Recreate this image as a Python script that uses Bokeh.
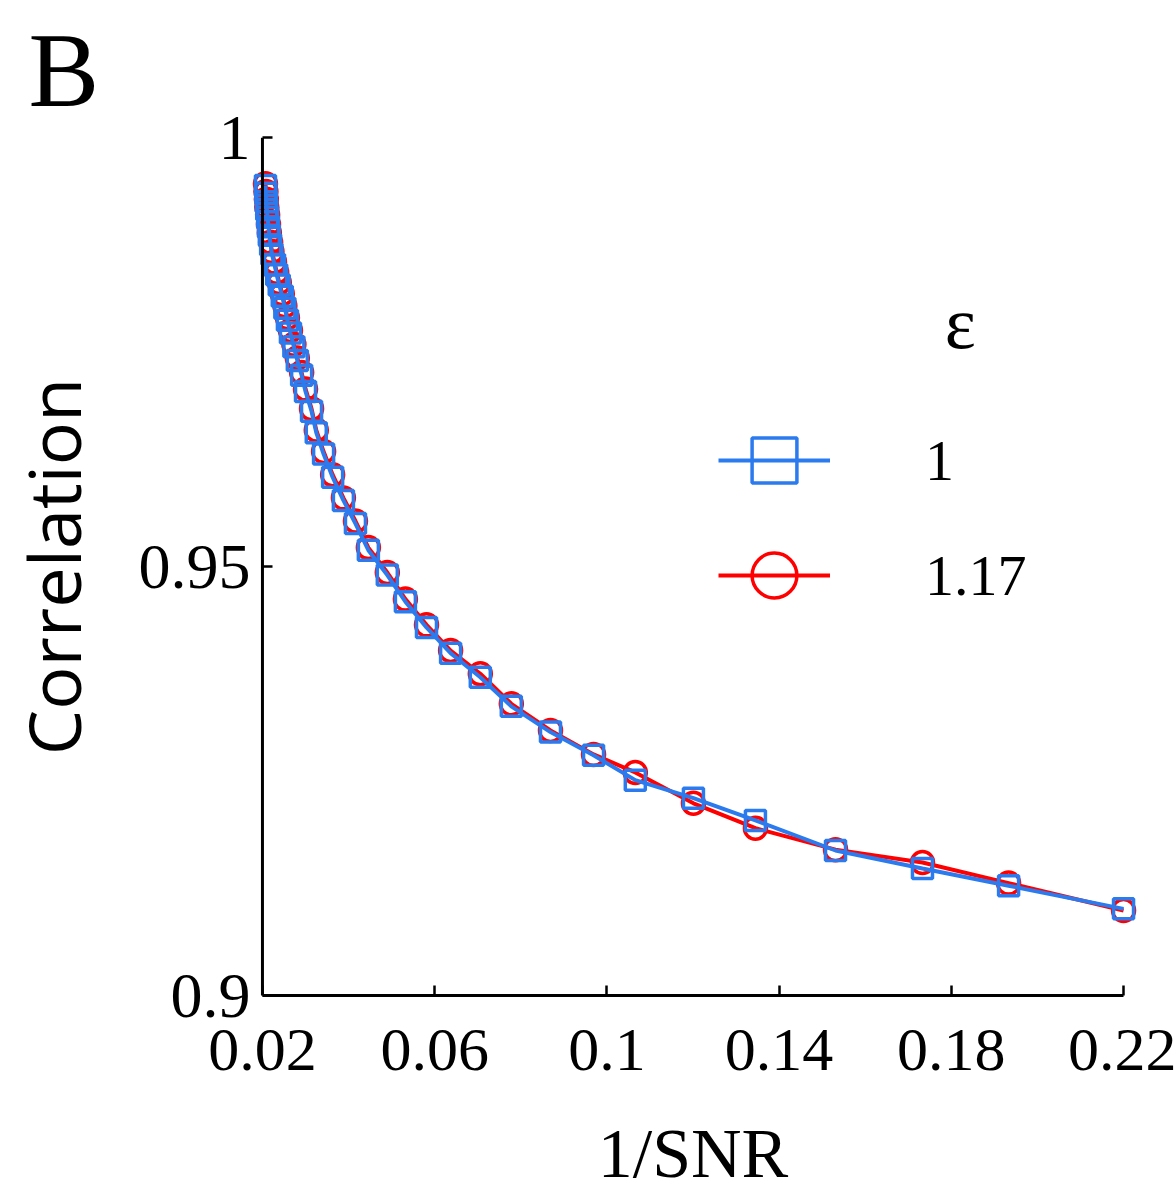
from bokeh.plotting import figure
from bokeh.models import Range1d, Legend, LegendItem, Label, FixedTicker, NumeralTickFormatter, Span
from bokeh.embed import file_html
from bokeh.resources import INLINE

# ---- data ----
inv_snr = [0.0207, 0.0208, 0.0209, 0.0210, 0.0212, 0.0214, 0.0216, 0.0219, 0.0222, 0.0228,
           0.0233, 0.0239, 0.0246, 0.0252, 0.0258, 0.0265, 0.0273, 0.0281, 0.0291, 0.0300,
           0.0314, 0.0325, 0.0342, 0.0363, 0.0388, 0.0416, 0.0446, 0.0490, 0.0532, 0.0581,
           0.0637, 0.0706, 0.0778, 0.0869, 0.0969, 0.1066, 0.1201, 0.1345, 0.1531, 0.1733,
           0.1933, 0.2200]
corr_eps_1 = [0.9944, 0.9935, 0.9925, 0.9916, 0.9907, 0.9896, 0.9886, 0.9875, 0.9864, 0.9852,
              0.9840, 0.9828, 0.9815, 0.9801, 0.9787, 0.9772, 0.9756, 0.9740, 0.9723, 0.9704,
              0.9681, 0.9656, 0.9631, 0.9604, 0.9577, 0.9550, 0.9519, 0.9490, 0.9459, 0.9429,
              0.9399, 0.9371, 0.9337, 0.9307, 0.9280, 0.9251, 0.9230, 0.9204, 0.9169, 0.9148,
              0.9128, 0.9101]
corr_eps_117 = [0.9946, 0.9937, 0.9928, 0.9919, 0.9910, 0.9899, 0.9889, 0.9878, 0.9867, 0.9855,
                0.9843, 0.9831, 0.9818, 0.9804, 0.9790, 0.9775, 0.9759, 0.9743, 0.9726, 0.9707,
                0.9684, 0.9659, 0.9634, 0.9607, 0.9580, 0.9553, 0.9522, 0.9493, 0.9462, 0.9432,
                0.9402, 0.9375, 0.9340, 0.9309, 0.9281, 0.9260, 0.9224, 0.9195, 0.9170, 0.9155,
                0.9131, 0.9099]
series_labels = ["1", "1.17"]
legend_title = "ε"
x_ticks = [0.02, 0.06, 0.10, 0.14, 0.18, 0.22]
y_ticks = [0.90, 0.95, 1.00]
x_axis_start = 0.02

BLUE = "#2B7BEF"
RED = "#FF0000"
SERIF = "Liberation Serif"

p = figure(width=1176, height=1195, output_backend="svg", toolbar_location=None,
           x_range=Range1d(0.0149, 0.2251), y_range=Range1d(0.9, 1.0),
           min_border_left=240, min_border_right=31, min_border_top=137, min_border_bottom=200,
           background_fill_color="white", border_fill_color="white")
p.outline_line_color = None
p.grid.visible = False

# panel letter
p.title.text = "B"
p.title.text_font = SERIF
p.title.text_font_size = "106px"
p.title.text_font_style = "normal"
p.title.text_color = "black"
p.title.align = "left"
p.title.offset = -212
p.title.standoff = 17

# series (red under blue)
red_line = p.line(inv_snr, corr_eps_117, line_color=RED, line_width=4)
red_pts = p.scatter(inv_snr, corr_eps_117, marker="circle", size=22, line_color=RED,
                    line_width=3.5, fill_color=None)
blue_line = p.line(inv_snr, corr_eps_1, line_color=BLUE, line_width=4)
blue_pts = p.scatter(inv_snr, corr_eps_1, marker="square", size=20, line_color=BLUE,
                     line_width=3.5, fill_color=None)

# axes
fmt = NumeralTickFormatter(format="0.[00]")
xa = p.xaxis[0]
xa.ticker = FixedTicker(ticks=x_ticks)
xa.formatter = fmt
xa.bounds = (0.02, 0.22)
xa.axis_label = "1/SNR"
ya = p.yaxis[0]
ya.ticker = FixedTicker(ticks=y_ticks)
ya.formatter = fmt
ya.axis_label = "Correlation"
for ax in (xa, ya):
    ax.axis_line_width = 3
    ax.axis_line_color = "black"
    ax.major_tick_line_width = 2.5
    ax.minor_tick_line_color = None
    ax.major_label_text_font = SERIF
    ax.major_label_text_color = "black"
    ax.axis_label_text_font_style = "normal"
    ax.axis_label_text_color = "black"
xa.major_label_text_font_size = "62px"
xa.major_tick_in = 10
xa.major_tick_out = 0
xa.major_label_standoff = 34
xa.axis_label_standoff = 42
xa.axis_label_text_font = SERIF
xa.axis_label_text_font_size = "70px"
# y axis sits at the frame edge; its visible line is drawn at x = 0.02 below
ya.major_label_text_font_size = "64px"
ya.axis_line_color = None
ya.major_tick_in = 32
ya.major_tick_out = -22
ya.major_label_standoff = -10
ya.axis_label_standoff = 34
ya.axis_label_text_font = "Open Sans"
ya.axis_label_text_font_size = "72px"
p.add_layout(Span(location=x_axis_start, dimension="height", line_color="black", line_width=3))

# legend
legend = Legend(items=[LegendItem(label=series_labels[0], renderers=[blue_line, blue_pts]),
                       LegendItem(label=series_labels[1], renderers=[red_line, red_pts])],
                location=(478, 364), glyph_width=112, glyph_height=112, spacing=3,
                padding=0, margin=0, border_line_color=None, background_fill_alpha=0,
                label_text_font=SERIF, label_text_font_size="58px", label_text_color="black",
                label_standoff=95)
p.add_layout(legend, "center")

p.add_layout(Label(x=0.1821, y=0.9784, text=legend_title, text_font=SERIF,
                   text_font_size="74px", text_align="center", text_baseline="middle",
                   text_color="black"))

open("out.html", "w").write(file_html(p, INLINE))
